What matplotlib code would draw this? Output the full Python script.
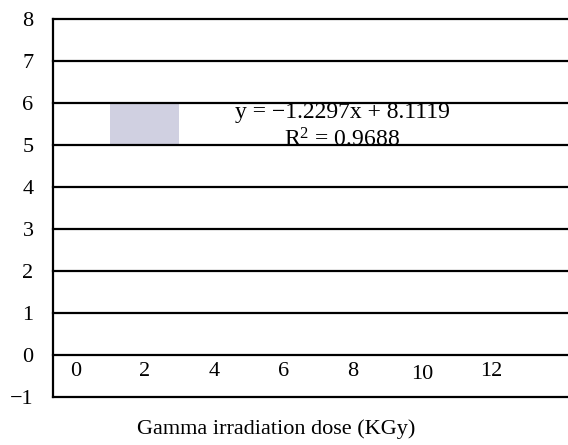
import matplotlib
matplotlib.use('Agg')
import matplotlib.pyplot as plt

plt.rcParams['font.family'] = ['Liberation Serif', 'DejaVu Serif']
plt.rcParams['mathtext.default'] = 'regular'

# data
dose_ticks = [0, 2, 4, 6, 8, 10, 12]
bar_x = [2]
bar_bottom = [5]
bar_height = [1]
slope = -1.2297
intercept = 8.1119
r2 = 0.9688
y_ticks = list(range(-1, 9))

fig = plt.figure(figsize=(5.68, 4.45), dpi=100)
ax = fig.add_axes([0.0933, 0.108, 0.9067, 0.849])

ax.bar(bar_x, bar_height, bottom=bar_bottom, width=2, color='#d0d0e1', zorder=1)

# horizontal gridlines
for yv in y_ticks:
    ax.axhline(yv, color='black', lw=1.6, zorder=2, clip_on=False)

ax.set_xlim(-0.64, 14.2)
ax.set_ylim(-1, 8)
ax.set_yticks(y_ticks)
ax.set_xticks([])
ax.tick_params(axis='y', length=0, pad=14, labelsize=16)

for s in ['top', 'right', 'bottom']:
    ax.spines[s].set_visible(False)
ax.spines['left'].set_linewidth(1.6)
ax.spines['left'].set_color('black')

# x tick labels drawn inside the plot area
for v in dose_ticks:
    yy = -0.47 if v == 10 else -0.4
    ax.text(v, yy, str(v), ha='center', va='center', fontsize=16, zorder=3)

# trendline equation
eq = 'y = \u2212%.4fx + %.4f' % (abs(slope), intercept)
ax.text(7.7, 5.77, eq, ha='center', va='center', fontsize=17, zorder=3)
ax.text(7.7, 5.12, 'R$^{2}$ = %.4f' % r2, ha='center', va='center', fontsize=17, zorder=3)

ax.set_xlabel('Gamma irradiation dose (KGy)', fontsize=16)
ax.xaxis.set_label_coords(0.433, -0.058, transform=ax.transAxes)
ax.xaxis.label.set_va('top')

fig.savefig('out.png', dpi=100)
